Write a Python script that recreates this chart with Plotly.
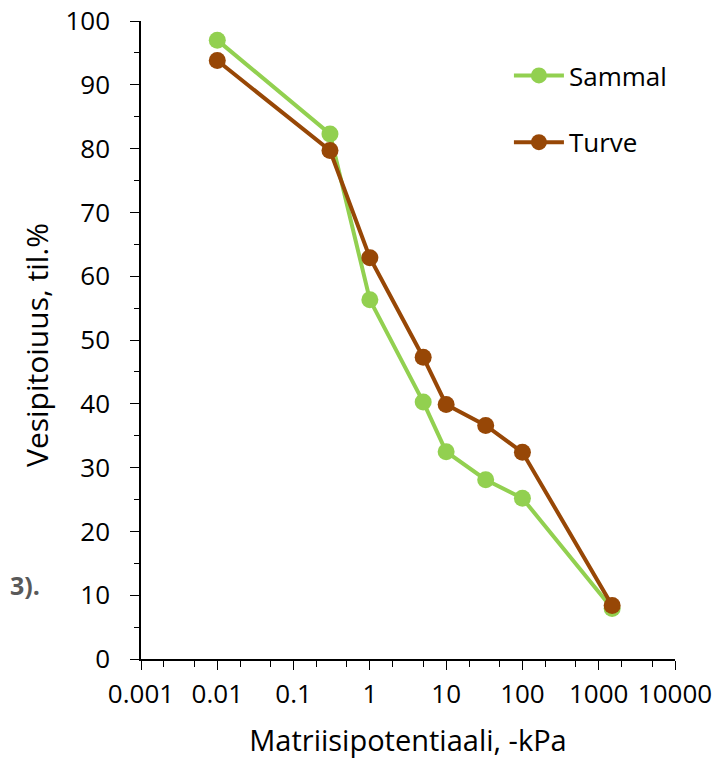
import plotly.graph_objects as go

pressure = [0.01, 0.3, 1, 5, 10, 33, 100, 1500]
sammal = [97.0, 82.3, 56.3, 40.3, 32.5, 28.1, 25.2, 7.9]
turve = [93.8, 79.7, 62.9, 47.3, 39.9, 36.6, 32.4, 8.4]

x_tick_vals = [0.001, 0.01, 0.1, 1, 10, 100, 1000, 10000]
x_tick_text = ["0.001", "0.01", "0.1", "1", "10", "100", "1000", "10000"]

green = "#92D050"
brown = "#974706"
font_family = "Open Sans, Lato, sans-serif"

TOP, BOTTOM, LEFT, RIGHT = 13, 109, 133, 61
PW, PH = 728 - LEFT - RIGHT, 760 - TOP - BOTTOM

fig = go.Figure()
fig.add_trace(go.Scatter(x=pressure, y=sammal, name="Sammal", mode="lines+markers",
                         line=dict(color=green, width=4),
                         marker=dict(color=green, size=17), legendgroup="a"))
fig.add_trace(go.Scatter(x=pressure, y=turve, name="Turve", mode="lines+markers",
                         line=dict(color=brown, width=4),
                         marker=dict(color=brown, size=17), legendgroup="b"))

fig.update_layout(
    width=728, height=760,
    margin=dict(l=LEFT, r=RIGHT, t=TOP, b=BOTTOM),
    plot_bgcolor="white", paper_bgcolor="white",
    font=dict(family=font_family, size=24, color="black"),
    legend=dict(x=0.689, y=1 - (44 - TOP) / PH, xanchor="left", yanchor="top",
                bgcolor="rgba(0,0,0,0)", itemwidth=50, tracegroupgap=30,
                font=dict(size=26)),
    xaxis=dict(type="log", range=[-3, 4], tickvals=x_tick_vals, ticktext=x_tick_text,
               showline=True, linecolor="black", linewidth=1.5, ticks="outside",
               ticklen=9, tickcolor="black", showgrid=False, zeroline=False,
               automargin=False, ticklabelstandoff=2, ticklabeloverflow="allow",
               minor=dict(ticks="outside", ticklen=6, tickcolor="black", showgrid=False),
               title=dict(text="Matriisipotentiaali, -kPa", standoff=21),
               tickfont=dict(size=26)),
    yaxis=dict(range=[0, 100], dtick=10, showline=True, linecolor="black", linewidth=1.5,
               ticks="outside", ticklen=9, tickcolor="black", showgrid=False, zeroline=False,
               automargin=False, ticklabeloverflow="allow",
               minor=dict(dtick=5, ticks="outside", ticklen=5, tickcolor="black", showgrid=False),
               tickfont=dict(size=26), ticklabelstandoff=15),
)
fig.add_annotation(text="Vesipitoiuus, til.%", xref="paper", yref="paper",
                   x=(28 - LEFT) / PW, y=1 - (337 - TOP) / PH, textangle=-90,
                   xanchor="center", yanchor="middle", showarrow=False,
                   font=dict(size=30, color="black", family=font_family))
fig.add_annotation(text="<b>3).</b>", xref="paper", yref="paper",
                   x=(0 - LEFT) / PW, y=1 - (577 - TOP) / PH,
                   xanchor="left", yanchor="middle", showarrow=False,
                   font=dict(size=25, color="#595959", family=font_family))

fig.write_html("out.html")
